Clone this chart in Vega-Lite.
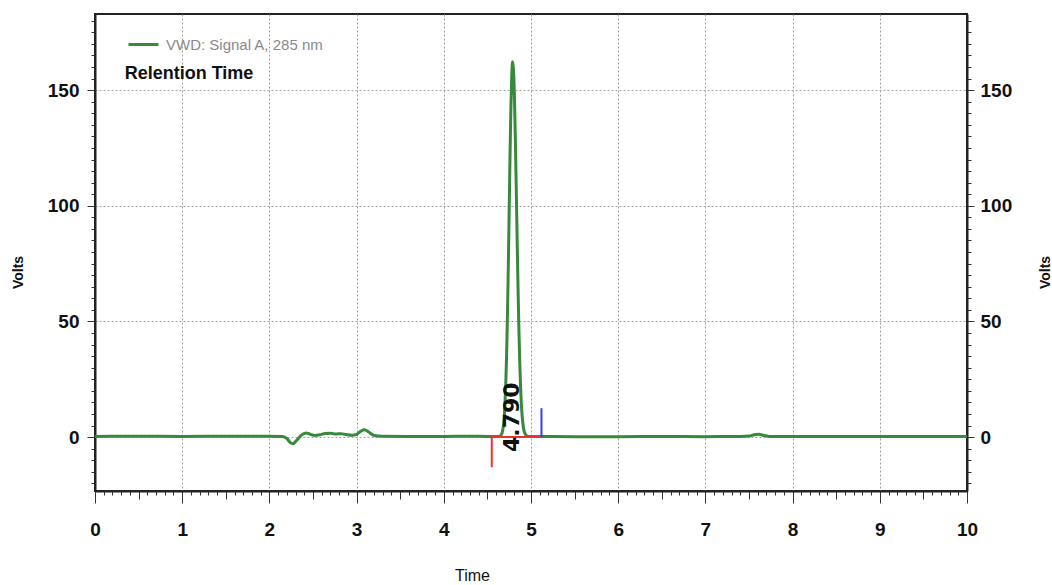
{
  "$schema": "https://vega.github.io/schema/vega-lite/v6.json",
  "width": 872,
  "height": 477,
  "autosize": {"type": "none"},
  "padding": {"left": 95, "top": 14, "right": 85, "bottom": 94},
  "background": "white",
  "config": {
    "view": {"stroke": "#222", "strokeWidth": 2},
    "font": "Liberation Sans, Arial, sans-serif"
  },
  "datasets": {
    "signal": [
      {"t": 0, "v": 0.3}, {"t": 0.5, "v": 0.4}, {"t": 1, "v": 0.3}, {"t": 1.5, "v": 0.4}, {"t": 2, "v": 0.4},
      {"t": 2.15, "v": 0.3}, {"t": 2.2, "v": -0.6}, {"t": 2.24, "v": -2.4}, {"t": 2.27, "v": -2.9}, {"t": 2.31, "v": -1.5},
      {"t": 2.36, "v": 0.6}, {"t": 2.42, "v": 1.8}, {"t": 2.47, "v": 1.2}, {"t": 2.52, "v": 0.7}, {"t": 2.58, "v": 1.0},
      {"t": 2.64, "v": 1.6}, {"t": 2.7, "v": 1.7}, {"t": 2.76, "v": 1.3}, {"t": 2.82, "v": 1.5}, {"t": 2.88, "v": 1.1},
      {"t": 2.95, "v": 0.8}, {"t": 3.0, "v": 1.2}, {"t": 3.05, "v": 2.6}, {"t": 3.09, "v": 3.2}, {"t": 3.14, "v": 2.2},
      {"t": 3.2, "v": 0.7}, {"t": 3.3, "v": 0.4}, {"t": 3.6, "v": 0.3}, {"t": 4.0, "v": 0.3}, {"t": 4.3, "v": 0.4},
      {"t": 4.5, "v": 0.3}, {"t": 4.62, "v": 0.3}, {"t": 4.64, "v": 0.3}, {"t": 4.65, "v": 0.6}, {"t": 4.66, "v": 1.0},
      {"t": 4.67, "v": 2.0}, {"t": 4.68, "v": 4.0}, {"t": 4.69, "v": 7.3}, {"t": 4.7, "v": 13.2}, {"t": 4.71, "v": 22.2},
      {"t": 4.72, "v": 35.3}, {"t": 4.73, "v": 52.9}, {"t": 4.74, "v": 74.5}, {"t": 4.75, "v": 98.6}, {"t": 4.76, "v": 122.6},
      {"t": 4.77, "v": 143.3}, {"t": 4.78, "v": 157.3}, {"t": 4.79, "v": 162.3}, {"t": 4.8, "v": 158.3}, {"t": 4.81, "v": 147.1},
      {"t": 4.82, "v": 130.0}, {"t": 4.83, "v": 109.4}, {"t": 4.84, "v": 87.7}, {"t": 4.85, "v": 66.9}, {"t": 4.86, "v": 48.6},
      {"t": 4.87, "v": 33.7}, {"t": 4.88, "v": 22.2}, {"t": 4.89, "v": 14.0}, {"t": 4.9, "v": 8.5}, {"t": 4.91, "v": 4.9},
      {"t": 4.92, "v": 2.8}, {"t": 4.93, "v": 1.6}, {"t": 4.94, "v": 0.9}, {"t": 4.95, "v": 0.6}, {"t": 4.96, "v": 0.4},
      {"t": 4.98, "v": 0.3}, {"t": 5.0, "v": 0.3}, {"t": 5.5, "v": 0.2}, {"t": 6.0, "v": 0.2}, {"t": 6.5, "v": 0.3},
      {"t": 7.0, "v": 0.2}, {"t": 7.4, "v": 0.3}, {"t": 7.5, "v": 0.5}, {"t": 7.56, "v": 1.0}, {"t": 7.61, "v": 1.2},
      {"t": 7.67, "v": 0.7}, {"t": 7.74, "v": 0.3}, {"t": 8.0, "v": 0.3}, {"t": 8.5, "v": 0.3}, {"t": 9.0, "v": 0.3},
      {"t": 9.5, "v": 0.3}, {"t": 10.0, "v": 0.3}
    ],
    "redMarks": [
      {"t": 4.55, "t2": 5.12, "v": 0, "v2": 0},
      {"t": 4.55, "t2": 4.55, "v": 0, "v2": -13}
    ],
    "blueMarks": [
      {"t": 5.12, "t2": 5.12, "v": 0, "v2": 12.5}
    ],
    "peakLabel": [
      {"t": 4.78, "v": 8.6, "label": "4.790"}
    ],
    "heading": [
      {"t": 0.34, "v": 157, "label": "Relention Time"}
    ]
  },
  "resolve": {"axis": {"x": "independent", "y": "independent"}},
  "layer": [
    {
      "data": {"name": "signal"},
      "mark": {"type": "line", "strokeWidth": 3, "interpolate": "monotone"},
      "encoding": {
        "x": {
          "field": "t", "type": "quantitative",
          "scale": {"domain": [0, 10], "nice": false, "zero": false},
          "axis": {
            "title": "Time",
            "titleFont": "Liberation Sans, Arial, sans-serif",
            "titleFontSize": 16, "titleFontWeight": "normal", "titleColor": "#111",
            "titleX": 377, "titleY": 84, "titleBaseline": "middle",
            "values": [0,0.1,0.2,0.3,0.4,0.5,0.6,0.7,0.8,0.9,1,1.1,1.2,1.3,1.4,1.5,1.6,1.7,1.8,1.9,2,2.1,2.2,2.3,2.4,2.5,2.6,2.7,2.8,2.9,3,3.1,3.2,3.3,3.4,3.5,3.6,3.7,3.8,3.9,4,4.1,4.2,4.3,4.4,4.5,4.6,4.7,4.8,4.9,5,5.1,5.2,5.3,5.4,5.5,5.6,5.7,5.8,5.9,6,6.1,6.2,6.3,6.4,6.5,6.6,6.7,6.8,6.9,7,7.1,7.2,7.3,7.4,7.5,7.6,7.7,7.8,7.9,8,8.1,8.2,8.3,8.4,8.5,8.6,8.7,8.8,8.9,9,9.1,9.2,9.3,9.4,9.5,9.6,9.7,9.8,9.9,10],
            "labelExpr": "abs(datum.value - round(datum.value)) < 0.001 ? format(datum.value, 'd') : ''",
            "labelOverlap": false,
            "labelFlush": false,
            "labelBound": false,
            "labelFont": "Liberation Sans, Arial, sans-serif",
            "labelFontSize": 19, "labelFontWeight": "bold", "labelColor": "#111",
            "labelPadding": 26, "labelBaseline": "middle",
            "domainColor": "#222", "domainWidth": 2,
            "tickColor": "#333", "tickWidth": 1,
            "tickSize": {"condition": [
              {"test": "abs(datum.value - round(datum.value)) < 0.001", "value": 12},
              {"test": "abs(datum.value * 2 - round(datum.value * 2)) < 0.001", "value": 8}
            ], "value": 4},
            "grid": true, "gridColor": "#a0a0a0", "gridDash": [2, 2], "gridWidth": 1,
            "gridOpacity": {"condition": {"test": "abs(datum.value - round(datum.value)) < 0.001 && datum.value > 0 && datum.value < 10", "value": 1}, "value": 0}
          }
        },
        "y": {
          "field": "v", "type": "quantitative",
          "scale": {"domain": [-23.3, 182.9], "nice": false, "zero": false},
          "axis": {
            "title": "Volts",
            "titleFont": "Liberation Sans, Arial, sans-serif",
            "titleFontSize": 14, "titleFontWeight": "bold", "titleColor": "#111",
            "titleAngle": 270, "titleX": -77, "titleY": 258, "titleAlign": "center", "titleBaseline": "middle",
            "values": [-20,-15,-10,-5,0,5,10,15,20,25,30,35,40,45,50,55,60,65,70,75,80,85,90,95,100,105,110,115,120,125,130,135,140,145,150,155,160,165,170,175,180],
            "labelExpr": "datum.value % 50 === 0 ? datum.label : ''",
            "labelOverlap": false,
            "labelFont": "Liberation Sans, Arial, sans-serif",
            "labelFontSize": 19, "labelFontWeight": "bold", "labelColor": "#111",
            "labelPadding": 8,
            "domainColor": "#222", "domainWidth": 2,
            "tickColor": "#333", "tickWidth": 1,
            "tickSize": {"condition": {"test": "datum.value % 50 === 0", "value": 8}, "value": 4},
            "grid": true, "gridColor": "#a0a0a0", "gridDash": [2, 2], "gridWidth": 1,
            "gridOpacity": {"condition": {"test": "datum.value % 50 === 0", "value": 1}, "value": 0}
          }
        },
        "color": {
          "datum": "VWD: Signal A, 285 nm",
          "type": "nominal",
          "scale": {"range": ["#38893b"]},
          "legend": {
            "title": null, "orient": "none", "legendX": 32, "legendY": 14,
            "symbolType": "stroke", "symbolSize": 900, "symbolStrokeWidth": 3,
            "labelFont": "Liberation Sans, Arial, sans-serif",
            "labelFontSize": 15, "labelColor": "#8a8a8a", "labelOffset": 6
          }
        }
      }
    },
    {
      "data": {"name": "redMarks"},
      "mark": {"type": "rule", "color": "#e8322c", "strokeWidth": 2},
      "encoding": {
        "x": {"field": "t", "type": "quantitative", "scale": {"domain": [0, 10], "nice": false, "zero": false}, "axis": null},
        "x2": {"field": "t2"},
        "y": {
          "field": "v", "type": "quantitative",
          "scale": {"domain": [-23.3, 182.9], "nice": false, "zero": false},
          "axis": {
            "orient": "right",
            "title": "Volts",
            "titleFont": "Liberation Sans, Arial, sans-serif",
            "titleFontSize": 14, "titleFontWeight": "bold", "titleColor": "#111",
            "titleAngle": 270, "titleX": 78, "titleY": 258, "titleAlign": "center", "titleBaseline": "middle",
            "values": [-20,-15,-10,-5,0,5,10,15,20,25,30,35,40,45,50,55,60,65,70,75,80,85,90,95,100,105,110,115,120,125,130,135,140,145,150,155,160,165,170,175,180],
            "labelExpr": "datum.value % 50 === 0 ? datum.label : ''",
            "labelOverlap": false,
            "labelFont": "Liberation Sans, Arial, sans-serif",
            "labelFontSize": 19, "labelFontWeight": "bold", "labelColor": "#111",
            "labelPadding": 6,
            "domainColor": "#222", "domainWidth": 2,
            "tickColor": "#333", "tickWidth": 1,
            "tickSize": {"condition": {"test": "datum.value % 50 === 0", "value": 7}, "value": 4},
            "grid": false
          }
        },
        "y2": {"field": "v2"}
      }
    },
    {
      "data": {"name": "blueMarks"},
      "mark": {"type": "rule", "color": "#3b3bf2", "strokeWidth": 2},
      "encoding": {
        "x": {"field": "t", "type": "quantitative", "scale": {"domain": [0, 10], "nice": false, "zero": false}, "axis": null},
        "y": {"field": "v", "type": "quantitative", "scale": {"domain": [-23.3, 182.9], "nice": false, "zero": false}, "axis": null},
        "y2": {"field": "v2"}
      }
    },
    {
      "data": {"name": "peakLabel"},
      "mark": {"type": "text", "angle": 270, "align": "center", "baseline": "middle", "font": "DejaVu Sans, sans-serif", "fontWeight": "bold", "fontSize": 22, "color": "#111"},
      "encoding": {
        "x": {"field": "t", "type": "quantitative", "scale": {"domain": [0, 10], "nice": false, "zero": false}, "axis": null},
        "y": {"field": "v", "type": "quantitative", "scale": {"domain": [-23.3, 182.9], "nice": false, "zero": false}, "axis": null},
        "text": {"field": "label"}
      }
    },
    {
      "data": {"name": "heading"},
      "mark": {"type": "text", "align": "left", "baseline": "middle", "font": "Liberation Sans, Arial, sans-serif", "fontWeight": "bold", "fontSize": 18, "color": "#111"},
      "encoding": {
        "x": {"field": "t", "type": "quantitative", "scale": {"domain": [0, 10], "nice": false, "zero": false}, "axis": null},
        "y": {"field": "v", "type": "quantitative", "scale": {"domain": [-23.3, 182.9], "nice": false, "zero": false}, "axis": null},
        "text": {"field": "label"}
      }
    }
  ]
}
